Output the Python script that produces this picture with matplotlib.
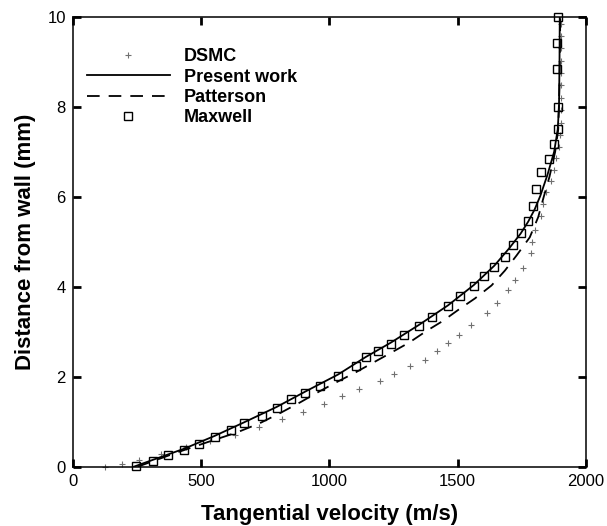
import numpy as np
import matplotlib
matplotlib.use('Agg')
import matplotlib.pyplot as plt

plt.rcParams['font.family'] = ['Liberation Sans', 'DejaVu Sans']

# DSMC (velocity m/s, distance mm)
dsmc_v = [127, 192, 258, 345, 440, 535, 633, 727, 814, 899, 979, 1051, 1116, 1197, 1253,
          1314, 1373, 1421, 1463, 1505, 1552, 1613, 1654, 1695, 1725, 1755, 1784, 1791, 1803,
          1824, 1834, 1845, 1862, 1875, 1885, 1895, 1900, 1902, 1903, 1903, 1904, 1904, 1904,
          1904, 1904, 1904]
dsmc_y = [0.0, 0.06, 0.15, 0.29, 0.43, 0.57, 0.71, 0.88, 1.06, 1.22, 1.39, 1.57, 1.73, 1.90, 2.07,
          2.24, 2.38, 2.57, 2.74, 2.92, 3.15, 3.42, 3.65, 3.93, 4.15, 4.42, 4.75, 5.00, 5.27,
          5.58, 5.85, 6.10, 6.35, 6.60, 6.86, 7.12, 7.38, 7.65, 7.93, 8.20, 8.48, 8.75, 9.03,
          9.30, 9.58, 9.85]

# present work
present_v = [238, 311, 434, 555, 669, 795, 906, 1034, 1142, 1240, 1351, 1463, 1563, 1643,
             1700, 1745, 1775, 1800, 1822, 1850, 1876, 1890, 1895, 1897, 1898]
present_y = [0.0, 0.15, 0.40, 0.69, 0.99, 1.33, 1.67, 2.05, 2.44, 2.76, 3.16, 3.59, 4.04, 4.47,
             4.85, 5.18, 5.45, 5.72, 6.02, 6.49, 7.0, 7.5, 8.0, 9.0, 10.0]

# Patterson
patt_v = [253, 403, 522, 639, 730, 814, 886, 963, 1035, 1100, 1236, 1311, 1379, 1442, 1508,
          1567, 1632, 1684, 1730, 1781, 1814, 1834, 1858, 1880, 1892, 1897, 1900]
patt_y = [0.0, 0.31, 0.54, 0.76, 0.97, 1.21, 1.43, 1.68, 1.90, 2.09, 2.52, 2.76, 3.02, 3.24, 3.51,
          3.74, 4.03, 4.36, 4.70, 5.10, 5.55, 5.97, 6.45, 7.0, 7.5, 8.5, 10.0]

# Maxwell
maxw_v = [246, 311, 370, 434, 492, 555, 617, 669, 739, 795, 851, 906, 962, 1034, 1103, 1142,
          1191, 1240, 1292, 1351, 1402, 1463, 1511, 1563, 1602, 1643, 1684, 1715, 1745, 1775,
          1795, 1806, 1825, 1857, 1875, 1892, 1891, 1889, 1888, 1890]
maxw_y = [0.02, 0.12, 0.25, 0.37, 0.51, 0.67, 0.82, 0.98, 1.13, 1.31, 1.50, 1.65, 1.80, 2.02, 2.23,
          2.45, 2.57, 2.73, 2.92, 3.13, 3.33, 3.57, 3.79, 4.02, 4.23, 4.45, 4.66, 4.93, 5.19, 5.47,
          5.80, 6.17, 6.55, 6.85, 7.17, 7.51, 8.00, 8.84, 9.42, 10.0]

fig = plt.figure(figsize=(6.07, 5.26), dpi=100)
ax = fig.add_axes([0.1198, 0.1127, 0.8455, 0.855])

ax.plot(dsmc_v, dsmc_y, linestyle='none', marker='+', color='#707070', markersize=5,
        markeredgewidth=0.8, label='DSMC', clip_on=False)
ax.plot(present_v, present_y, color='black', lw=1.3, label='Present work')
ax.plot(patt_v, patt_y, color='black', lw=1.3, dashes=(7, 5), label='Patterson')
ax.plot(maxw_v, maxw_y, linestyle='none', marker='s', markersize=5.5, markerfacecolor='none',
        markeredgecolor='black', markeredgewidth=1.0, label='Maxwell', clip_on=False)

ax.set_xlim(0, 2000)
ax.set_ylim(0, 10)
ax.set_xticks([0, 500, 1000, 1500, 2000])
ax.set_yticks([0, 2, 4, 6, 8, 10])
ax.tick_params(direction='in', top=True, right=True, length=6, width=2, labelsize=12, pad=5)
for s in ax.spines.values():
    s.set_linewidth(1.1)

ax.set_xlabel('Tangential velocity (m/s)', fontsize=16, fontweight='bold', labelpad=11)
ax.set_ylabel('Distance from wall (mm)', fontsize=16, fontweight='bold', labelpad=8)

leg = ax.legend(loc='upper left', bbox_to_anchor=(0.027, 0.93), frameon=False,
                borderaxespad=0, borderpad=0, handlelength=4.6, handletextpad=0.8,
                labelspacing=0.18, prop={'size': 13, 'weight': 'bold'})

fig.savefig('out.png', dpi=100)
